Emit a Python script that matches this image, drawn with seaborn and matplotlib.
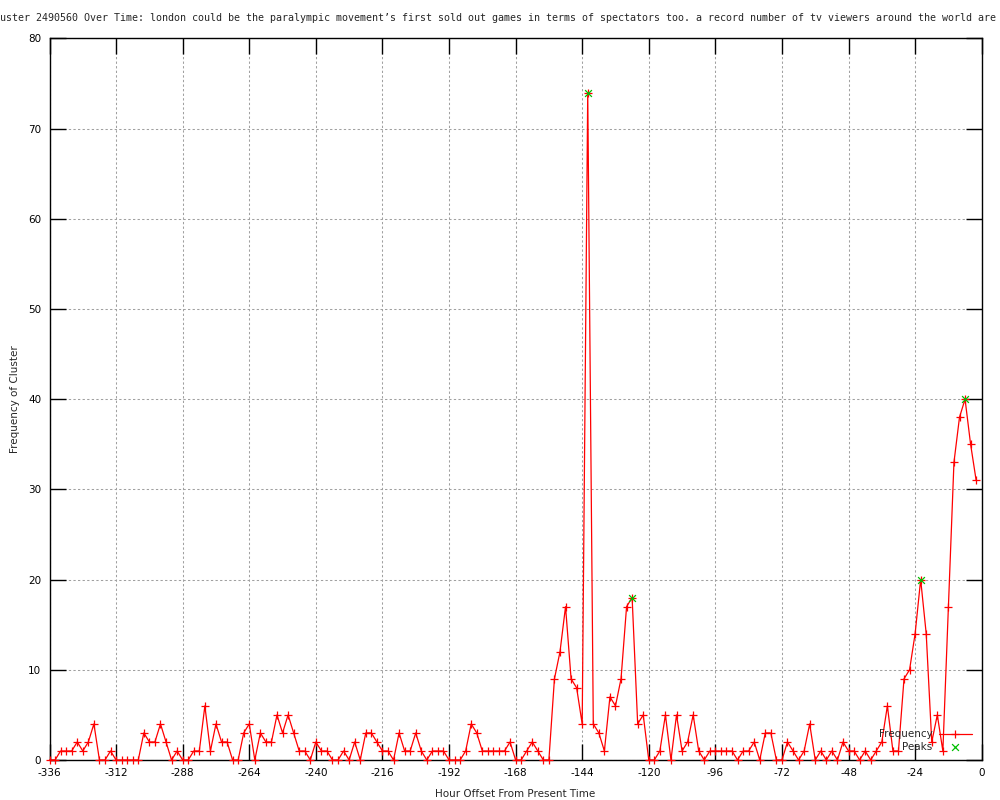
import numpy as np
import pandas as pd
import matplotlib
matplotlib.use("Agg")
import matplotlib.pyplot as plt
import seaborn as sns

# ---- data ----
hours = np.arange(-336, 0, 2)
frequency = [
    0, 0, 1, 1, 1, 2, 1, 2, 4, 0,      # -336 .. -318
    0, 1, 0, 0, 0, 0, 0, 3, 2, 2,      # -316 .. -298
    4, 2, 0, 1, 0, 0, 1, 1, 6, 1,      # -296 .. -278
    4, 2, 2, 0, 0, 3, 4, 0, 3, 2,      # -276 .. -258
    2, 5, 3, 5, 3, 1, 1, 0, 2, 1,      # -256 .. -238
    1, 0, 0, 1, 0, 2, 0, 3, 3, 2,      # -236 .. -218
    1, 1, 0, 3, 1, 1, 3, 1, 0, 1,      # -216 .. -198
    1, 1, 0, 0, 0, 1, 4, 3, 1, 1,      # -196 .. -178
    1, 1, 1, 2, 0, 0, 1, 2, 1, 0,      # -176 .. -158
    0, 9, 12, 17, 9, 8, 4, 74, 4, 3,   # -156 .. -138
    1, 7, 6, 9, 17, 18, 4, 5, 0, 0,    # -136 .. -118
    1, 5, 0, 5, 1, 2, 5, 1, 0, 1,      # -116 .. -98
    1, 1, 1, 1, 0, 1, 1, 2, 0, 3,      # -96 .. -78
    3, 0, 0, 2, 1, 0, 1, 4, 0, 1,      # -76 .. -58
    0, 1, 0, 2, 1, 1, 0, 1, 0, 1,      # -56 .. -38
    2, 6, 1, 1, 9, 10, 14, 20, 14, 2,  # -36 .. -18
    5, 1, 17, 33, 38, 40, 35, 31,      # -16 .. -2
]
peak_hours = [-142, -126, -22, -6]
peak_values = [74, 18, 20, 40]

x_ticks = list(range(-336, 1, 24))
y_ticks = list(range(0, 81, 10))

title = ("uster 2490560 Over Time: london could be the paralympic movement\u2019s first sold out games "
         "in terms of spectators too. a record number of tv viewers around the world are")

df = pd.DataFrame({"hour": hours, "freq": frequency})
peaks = pd.DataFrame({"hour": peak_hours, "freq": peak_values})

# ---- style ----
sns.set_style("white")
plt.rcParams["font.family"] = ["DejaVu Sans"]
plt.rcParams["axes.unicode_minus"] = False

fig = plt.figure(figsize=(10, 8), dpi=100)
ax = fig.add_axes([0.0495, 0.05, 0.9817 - 0.0495, 0.952 - 0.05])

sns.lineplot(data=df, x="hour", y="freq", ax=ax, color="#ff0000", linewidth=0.9,
             marker="+", markersize=5.8, markeredgewidth=0.9, markeredgecolor="#ff0000",
             label="Frequency", clip_on=False, zorder=3)
sns.scatterplot(data=peaks, x="hour", y="freq", ax=ax, color="#00c000", marker="x",
                s=24, linewidth=0.9, label="Peaks", zorder=4, clip_on=False)

ax.set_xlim(-336, 0)
ax.set_ylim(0, 80)
ax.set_xticks(x_ticks)
ax.set_yticks(y_ticks)
ax.set_xticklabels([str(t) for t in x_ticks])
ax.set_yticklabels([str(t) for t in y_ticks])

ax.grid(True, color="#a0a0a0", linestyle=(0, (2.2, 2.2)), linewidth=0.75)
ax.tick_params(axis="both", which="both", direction="in", length=11.5, width=1.0,
               color="black", bottom=True, left=True, top=True, right=True,
               labelsize=7.5, pad=6, labelcolor="black")
for sp in ax.spines.values():
    sp.set_color("black")
    sp.set_linewidth(1.0)

ax.set_xlabel("Hour Offset From Present Time", fontsize=7.5, labelpad=8)
ax.set_ylabel("Frequency of Cluster", fontsize=7.5, labelpad=6)

fig.text(0.0, 1 - 18 / 800, title, ha="left", va="center", fontsize=7.2,
         family=["DejaVu Sans Mono"])

leg = ax.legend(loc="lower right", bbox_to_anchor=(972 / 1000, (800 - 752) / 800),
                bbox_transform=fig.transFigure, frameon=False, markerfirst=False,
                fontsize=7.5, handlelength=3.2, handletextpad=0.6, borderpad=0,
                borderaxespad=0, labelspacing=0.25, scatterpoints=1, numpoints=1)

fig.savefig("out.png", dpi=100, facecolor="white")
